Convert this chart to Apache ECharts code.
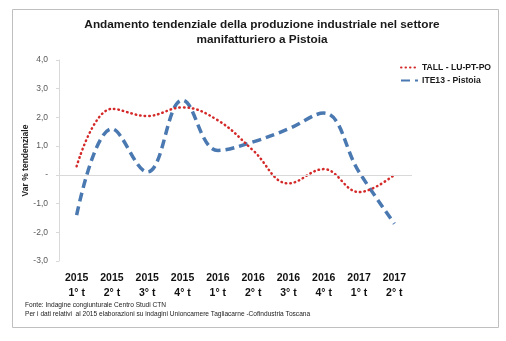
<!DOCTYPE html>
<html>
<head>
<meta charset="utf-8">
<script src="https://cdn.jsdelivr.net/npm/echarts@6/dist/echarts.min.js"></script>
<style>
html,body{margin:0;padding:0;background:#fff;}
#c{width:506px;height:341px;}
</style>
</head>
<body>
<div id="c"></div>
<script>
const years = ['2015','2015','2015','2015','2016','2016','2016','2016','2017','2017'];
const quarters = ['1° t','2° t','3° t','4° t','1° t','2° t','3° t','4° t','1° t','2° t'];
const seriesNames = ['TALL - LU-PT-PO', 'ITE13 - Pistoia'];
const tall = [0.3, 2.3, 2.05, 2.35, 1.9, 0.85, -0.3, 0.2, -0.6, 0.0];
const ite13 = [-1.4, 1.6, 0.1, 2.6, 0.85, 1.15, 1.6, 2.15, 0.1, -1.7];
const yTicks = [-3, -2, -1, 0, 1, 2, 3, 4];
const titleLines = ['Andamento tendenziale della produzione industriale nel settore', 'manifatturiero a Pistoia'];
const yName = 'Var % tendenziale';
const notes = ['Fonte: Indagine congiunturale Centro Studi CTN', 'Per i dati relativi  al 2015 elaborazioni su indagini Unioncamere Tagliacarne -Cofindustria Toscana'];

const FONT = "'Liberation Sans', Arial, sans-serif";
const categories = years.map((y, i) => y + '\n' + quarters[i]);

const chart = echarts.init(document.getElementById('c'), null, {renderer: 'canvas'});
chart.setOption({
  backgroundColor: '#fff',
  animation: false,
  textStyle: {fontFamily: FONT},
  title: {
    text: titleLines.join('\n'),
    left: 257, top: 12, textAlign: 'center',
    textStyle: {fontFamily: FONT, fontSize: 11.8, fontWeight: 'bold', color: '#1a1a1a', lineHeight: 15}
  },
  legend: {
    orient: 'vertical', left: 395, top: 58, itemGap: 4,
    itemWidth: 17, itemHeight: 11,
    itemStyle: {opacity: 0},
    textStyle: {fontFamily: FONT, fontSize: 8.6, fontWeight: 'bold', color: '#1a1a1a', padding: [0,0,0,-1]},
    data: seriesNames
  },
  grid: {left: 59, right: 94, top: 60, bottom: 80, containLabel: false},
  xAxis: {
    type: 'category', data: categories, boundaryGap: true,
    axisLine: {show: false}, axisTick: {show: false},
    axisLabel: {fontFamily: FONT, fontSize: 10.5, fontWeight: 'bold', color: '#111', margin: 10, lineHeight: 15, interval: 0}
  },
  yAxis: {
    type: 'value', min: yTicks[0], max: yTicks[yTicks.length - 1], interval: 1,
    name: yName, nameLocation: 'middle', nameGap: 29, nameRotate: 90, nameMoveOverlap: false,
    nameTextStyle: {fontFamily: FONT, fontSize: 8.5, fontWeight: 'bold', color: '#222'},
    axisLine: {show: true, lineStyle: {color: '#d9d9d9', width: 1}},
    axisTick: {show: true, length: 3, lineStyle: {color: '#d9d9d9'}},
    splitLine: {show: false},
    axisLabel: {
      fontFamily: FONT, fontSize: 8.5, color: '#595959', margin: 11,
      formatter: v => v === 0 ? '-' : v.toFixed(1).replace('.', ',')
    }
  },
  series: [
    {
      name: seriesNames[0], type: 'line', data: tall, smooth: 0.4, symbol: 'none',
      lineStyle: {color: '#d42a2a', width: 2.5, type: [0.5, 4], cap: 'round'},
      itemStyle: {color: '#d42a2a'},
      z: 3,
      markLine: {
        silent: true, symbol: 'none', label: {show: false},
        lineStyle: {color: '#d9d9d9', width: 1, type: 'solid'},
        data: [{yAxis: 0}]
      }
    },
    {
      name: seriesNames[1], type: 'line', data: ite13, smooth: 0.4, symbol: 'none',
      lineStyle: {color: '#4a78b0', width: 3.5, type: [9, 5], cap: 'butt'},
      itemStyle: {color: '#4a78b0'},
      z: 2
    }
  ],
  graphic: [
    {type: 'rect', shape: {x: 12.5, y: 9.5, width: 486, height: 318}, style: {fill: null, stroke: '#bfbfbf', lineWidth: 1}, silent: true, z: -1},
    {type: 'text', left: 25, top: 301, style: {text: notes.join('\n'), font: "6.6px 'Liberation Sans', Arial, sans-serif", fill: '#222', lineHeight: 8.5}}
  ]
});
</script>
</body>
</html>
